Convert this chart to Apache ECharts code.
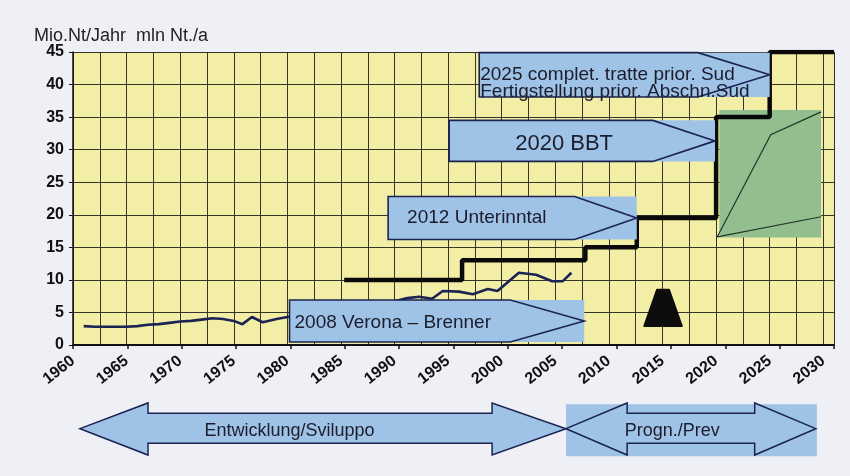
<!DOCTYPE html>
<html>
<head>
<meta charset="utf-8">
<script src="https://cdn.jsdelivr.net/npm/echarts@6/dist/echarts.min.js"></script>
<style>
html,body{margin:0;padding:0;background:#eff0f5;}
#chart{width:850px;height:476px;}
</style>
</head>
<body>
<div id="chart"></div>
<script>
// ---- data ----
const yAxisTitle = 'Mio.Nt/Jahr  mln Nt./a';
const yTicks = [0, 5, 10, 15, 20, 25, 30, 35, 40, 45];
const xTickYears = [1960, 1965, 1970, 1975, 1980, 1985, 1990, 1995, 2000, 2005, 2010, 2015, 2020, 2025, 2030];

// traffic (thin line)
const trafficYears = [1961, 1962, 1963, 1964, 1965, 1966, 1967, 1968, 1969, 1970, 1971, 1972, 1973, 1974, 1975, 1975.8, 1976.7, 1977.7, 1979, 1980, 1982, 1984, 1986, 1988, 1990, 1991.2, 1992.3, 1993.5, 1994.5, 1996, 1997.3, 1998.7, 1999.6, 2001.6, 2003.2, 2004.7, 2005.7, 2006.5];
const trafficValues = [2.9, 2.8, 2.8, 2.8, 2.8, 2.9, 3.1, 3.2, 3.4, 3.6, 3.7, 3.9, 4.1, 4.0, 3.7, 3.2, 4.3, 3.5, 4.0, 4.3, 4.6, 5.1, 5.6, 6.1, 6.7, 7.2, 7.4, 7.1, 8.3, 8.2, 7.8, 8.6, 8.3, 11.1, 10.8, 9.8, 9.8, 11.1];

// capacity (thick step line)
const capacityYears = [1985.3, 1996.3, 2007.8, 2012.6, 2020.0, 2025.0, 2031.0];
const capacityValues = [10, 13, 15, 19.5, 35, 45, 45];

// milestone arrow boxes
const boxLabels = ['2008 Verona – Brenner', '2012 Unterinntal', '2020 BBT', '2025 complet. tratte prior. Sud\nFertigstellung prior. Abschn.Sud'];
const boxStartYear = [1980.2, 1989.4, 1995.1, 1997.9];
const boxHeadYear = [2000.8, 2006.8, 2014.1, 2018.3];
const boxTipYear = [2007.7, 2012.6, 2019.9, 2025.0];
const boxLowValue = [0.45, 16.2, 28.2, 38.1];
const boxHighValue = [6.9, 22.8, 34.5, 44.9];

// forecast range (green)
const rangeYears = [2020.3, 2029.8];
const rangeValues = [16.5, 36.1];
const fanUpperYears = [2020.1, 2025.1, 2029.8];
const fanUpperValues = [16.6, 32.3, 35.8];
const fanLowerYears = [2020.1, 2029.8];
const fanLowerValues = [16.6, 19.7];

// black marker
const markerYears = [2013.3, 2014.5, 2015.6, 2016.8];
const markerValues = [2.9, 8.5, 8.5, 2.9];

// period arrows under the axis
const periodLabels = ['Entwicklung/Sviluppo', 'Progn./Prev'];
const periodStart = [1960.65, 2006.0];
const periodHeadA = [1967.0, 2011.7];
const periodHeadB = [1999.1, 2023.6];
const periodEnd = [2006.0, 2029.3];

// ---- styles ----
const BLUE = '#9fc3e7';
const NAVY = '#1b2352';
const TEXT = '#1c1c2c';
const FONT = '"Liberation Sans", Arial, sans-serif';
const boxFontSize = [19, 19, 22, 19];
const boxTextDx = [5, 19, 66, 1];
const boxTextDy = [2, 0, 3, 8.5];

const chart = echarts.init(document.getElementById('chart'), null, {renderer: 'canvas'});

function renderBoxes(params, api) {
  const i = params.dataIndex;
  const tl = api.coord([boxStartYear[i], boxHighValue[i]]);
  const br = api.coord([boxTipYear[i], boxLowValue[i]]);
  const hb = api.coord([boxHeadYear[i], boxHighValue[i]])[0];
  const midY = (tl[1] + br[1]) / 2;
  return {
    type: 'group',
    children: [
      {type: 'rect', shape: {x: tl[0], y: tl[1], width: br[0] - tl[0], height: br[1] - tl[1]}, style: {fill: BLUE}},
      {type: 'polygon', shape: {points: [[tl[0], tl[1]], [hb, tl[1]], [br[0], midY], [hb, br[1]], [tl[0], br[1]]]},
        style: {fill: null, stroke: NAVY, lineWidth: 1.6}},
      {type: 'text', x: tl[0] + boxTextDx[i], y: midY + boxTextDy[i], z2: 10,
        style: {text: boxLabels[i], fill: TEXT, font: boxFontSize[i] + 'px ' + FONT, align: 'left', verticalAlign: 'middle', lineHeight: 17}}
    ]
  };
}

function renderRange(params, api) {
  const a = api.coord([rangeYears[0], rangeValues[1]]);
  const b = api.coord([rangeYears[1], rangeValues[0]]);
  const up = fanUpperYears.map((y, k) => api.coord([y, fanUpperValues[k]]));
  const lo = fanLowerYears.map((y, k) => api.coord([y, fanLowerValues[k]]));
  return {
    type: 'group',
    children: [
      {type: 'rect', shape: {x: a[0], y: a[1], width: b[0] - a[0], height: b[1] - a[1]}, style: {fill: '#93bf8f'}},
      {type: 'polyline', shape: {points: up}, style: {fill: null, stroke: '#24352a', lineWidth: 1.2}},
      {type: 'polyline', shape: {points: lo}, style: {fill: null, stroke: '#24352a', lineWidth: 1.2}}
    ]
  };
}

function renderMarker(params, api) {
  const pts = markerYears.map((y, k) => api.coord([y, markerValues[k]]));
  return {type: 'polygon', shape: {points: pts}, style: {fill: '#0d0d0d', stroke: '#0d0d0d', lineWidth: 2, lineJoin: 'round'}};
}

// period arrow vertical levels (values below the axis)
const arrowTip = -12.85, headTop = -8.9, headBot = -16.9, shaftTop = -10.5, shaftBot = -15.1;

function renderPeriods(params, api) {
  const i = params.dataIndex;
  const P = (x, y) => api.coord([x, y]);
  const pts = [
    P(periodStart[i], arrowTip), P(periodHeadA[i], headTop), P(periodHeadA[i], shaftTop),
    P(periodHeadB[i], shaftTop), P(periodHeadB[i], headTop), P(periodEnd[i], arrowTip),
    P(periodHeadB[i], headBot), P(periodHeadB[i], shaftBot), P(periodHeadA[i], shaftBot),
    P(periodHeadA[i], headBot)
  ];
  const children = [];
  if (i === 1) {
    const r1 = P(2006.0, -9.1), r2 = P(2029.4, -17.1);
    children.push({type: 'rect', shape: {x: r1[0], y: r1[1], width: r2[0] - r1[0], height: r2[1] - r1[1]}, style: {fill: BLUE}});
    children.push({type: 'polygon', shape: {points: pts}, style: {fill: null, stroke: NAVY, lineWidth: 1.5}});
  } else {
    children.push({type: 'polygon', shape: {points: pts}, style: {fill: BLUE, stroke: NAVY, lineWidth: 1.5}});
  }
  const c = P(i === 0 ? 1980.2 : 2015.9, -13.2);
  children.push({type: 'text', x: c[0], y: c[1], style: {text: periodLabels[i], fill: TEXT, font: '18px ' + FONT, align: 'center', verticalAlign: 'middle'}});
  return {type: 'group', children: children};
}

const option = {
  backgroundColor: '#eff0f5',
  animation: false,
  title: {
    text: yAxisTitle, left: 29, top: 22,
    textStyle: {fontFamily: FONT, fontSize: 18, fontWeight: 'normal', color: '#222'}
  },
  grid: {left: 73, right: 16, top: 52, bottom: 131, show: true, backgroundColor: '#f3eea6', borderWidth: 0},
  xAxis: [{
    type: 'value', min: 1960, max: 2031, interval: 2.5,
    axisLine: {show: true, lineStyle: {color: '#111', width: 2}},
    axisTick: {show: false},
    splitLine: {show: true, lineStyle: {color: '#35352a', width: 1}},
    axisLabel: {
      rotate: 38, margin: 14, color: '#111', fontFamily: FONT, fontSize: 16, fontWeight: 'bold',
      formatter: v => (xTickYears.indexOf(v) >= 0 ? String(v) : '')
    }
  }, {
    type: 'value', min: 1960, max: 2030, interval: 5, position: 'bottom',
    axisLine: {show: false}, axisLabel: {show: false}, splitLine: {show: false},
    axisTick: {show: true, length: 4, lineStyle: {color: '#111', width: 1.5}}
  }],
  yAxis: {
    type: 'value', min: 0, max: 45, interval: 5,
    axisLine: {show: true, lineStyle: {color: '#111', width: 1.5}},
    axisTick: {show: true, length: 4, lineStyle: {color: '#111'}},
    splitLine: {show: true, lineStyle: {color: '#35352a', width: 1}},
    axisLabel: {
      margin: 9, color: '#111', fontFamily: FONT, fontSize: 16, fontWeight: 'bold',
      formatter: v => (yTicks.indexOf(v) >= 0 ? String(v) : '')
    }
  },
  series: [
    {
      type: 'custom', name: 'range', z: 2, clip: false, renderItem: renderRange,
      data: [[rangeYears[0], rangeValues[0]]]
    },
    {
      type: 'line', name: 'traffic', z: 3, showSymbol: false, smooth: false,
      lineStyle: {color: NAVY, width: 2.6},
      data: trafficYears.map((y, k) => [y, trafficValues[k]])
    },
    {
      type: 'line', name: 'capacity', z: 4, showSymbol: false, step: 'end',
      lineStyle: {color: '#0a0a0a', width: 4.5},
      data: capacityYears.map((y, k) => [y, capacityValues[k]])
    },
    {
      type: 'custom', name: 'marker', z: 4, clip: false, renderItem: renderMarker,
      data: [[markerYears[0], markerValues[0]]]
    },
    {
      type: 'custom', name: 'boxes', z: 5, clip: false, renderItem: renderBoxes,
      data: boxStartYear.map((y, k) => [y, boxLowValue[k]])
    },
    {
      type: 'custom', name: 'periods', z: 5, clip: false, renderItem: renderPeriods,
      data: periodStart.map((y, k) => [y, 0])
    }
  ]
};
chart.setOption(option);
</script>
</body>
</html>
